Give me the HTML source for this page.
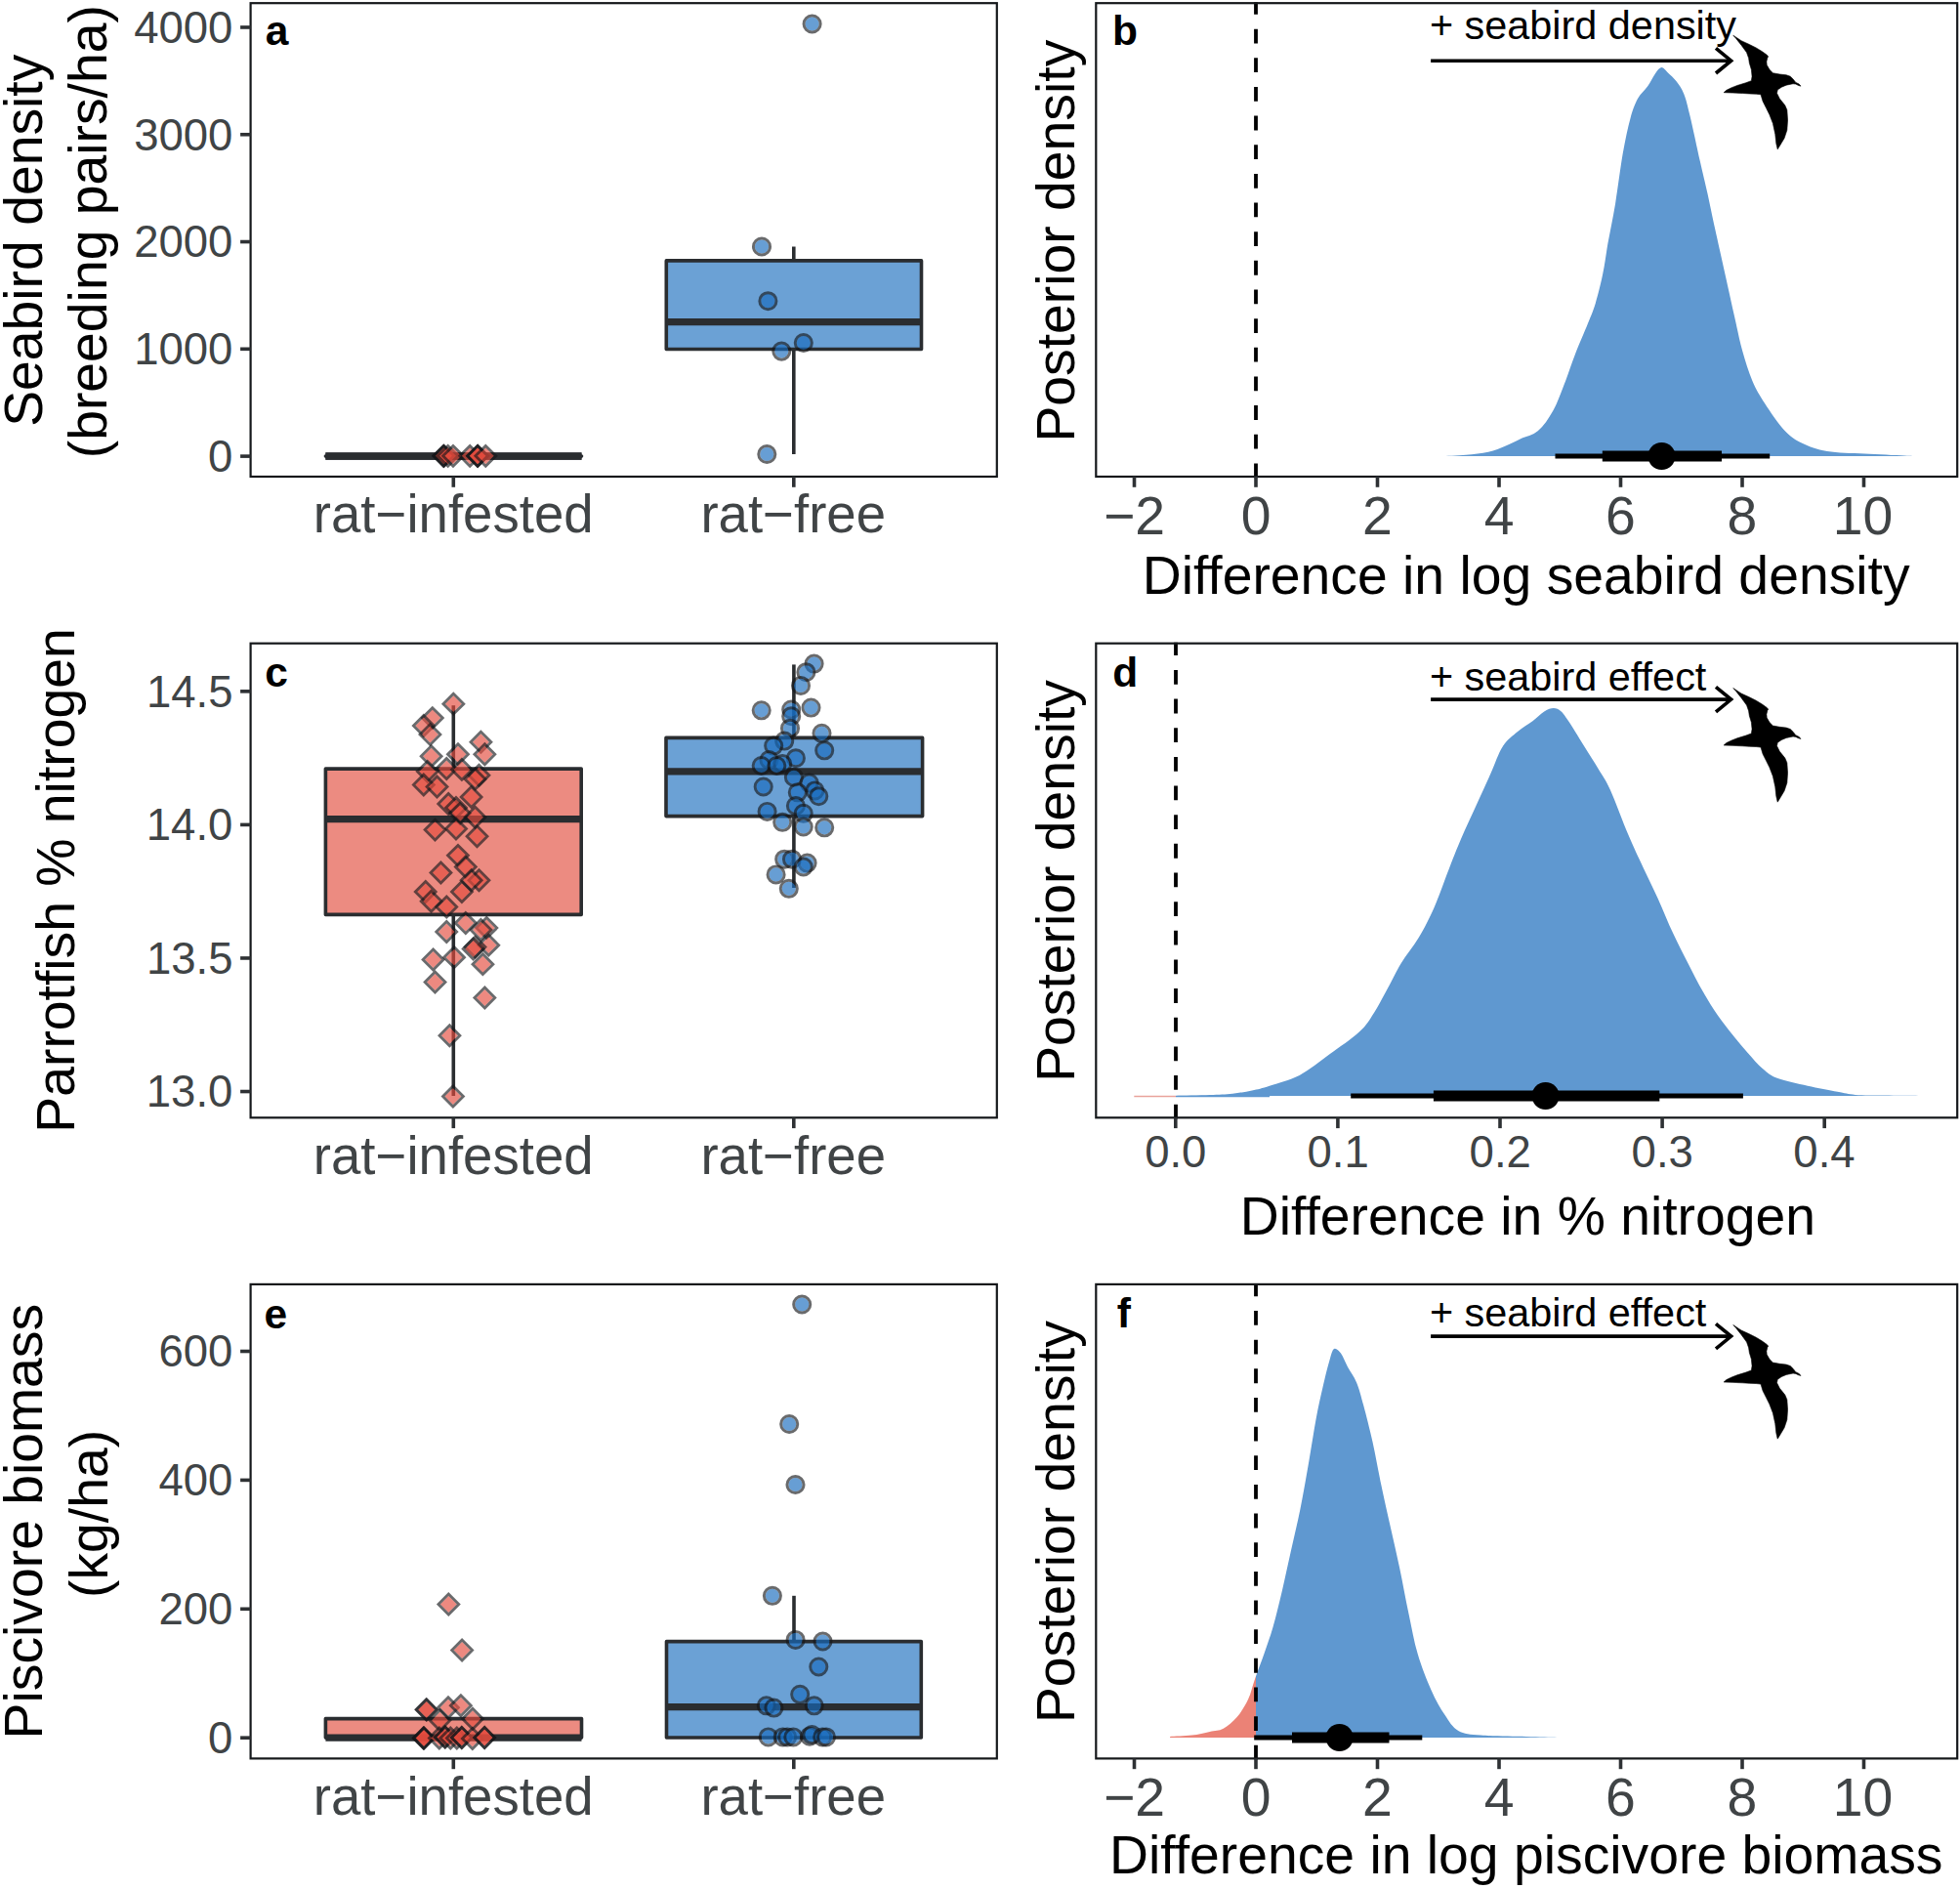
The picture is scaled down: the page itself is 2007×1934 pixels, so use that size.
<!DOCTYPE html>
<html><head><meta charset="utf-8"><style>
html,body{margin:0;padding:0;background:#fff;}
svg{display:block;}
text{font-family:"Liberation Sans",Arial,Helvetica,sans-serif;}
</style></head><body>
<svg width="2007" height="1934" viewBox="0 0 2007 1934">
<rect width="2007" height="1934" fill="#fff"/>
<line x1="464.30" y1="467.10" x2="464.30" y2="467.10" stroke="#2a2d30" stroke-width="3.6"/>
<line x1="464.30" y1="467.10" x2="464.30" y2="467.10" stroke="#2a2d30" stroke-width="3.6"/>
<rect x="333.40" y="467.10" width="262.10" height="0.00" fill="rgba(229,100,87,0.75)" stroke="#2a2d30" stroke-width="3.6" stroke-linejoin="round"/>
<line x1="333.40" y1="467.10" x2="595.50" y2="467.10" stroke="#2a2d30" stroke-width="7.2"/>
<line x1="333.4" y1="467.10" x2="595.5" y2="467.10" stroke="#2a2d30" stroke-width="3.6" stroke-linecap="round"/>
<line x1="333.4" y1="467.00" x2="595.5" y2="467.00" stroke="#2a2d30" stroke-width="7.6"/>
<path d="M454.3,458.3L462.8,466.8L454.3,475.3L445.8,466.8Z" fill="rgba(227,75,61,0.655)"/>
<path d="M454.3,456.4L464.8,466.8L454.3,477.2L443.9,466.8Z" fill="none" stroke="rgba(20,22,25,0.64)" stroke-width="2.80" stroke-linejoin="miter"/>
<path d="M454.3,458.3L462.8,466.8L454.3,475.3L445.8,466.8Z" fill="rgba(227,75,61,0.655)"/>
<path d="M454.3,456.4L464.8,466.8L454.3,477.2L443.9,466.8Z" fill="none" stroke="rgba(20,22,25,0.64)" stroke-width="2.80" stroke-linejoin="miter"/>
<path d="M454.6,458.3L463.1,466.8L454.6,475.3L446.1,466.8Z" fill="rgba(227,75,61,0.655)"/>
<path d="M454.6,456.4L465.1,466.8L454.6,477.2L444.2,466.8Z" fill="none" stroke="rgba(20,22,25,0.64)" stroke-width="2.80" stroke-linejoin="miter"/>
<path d="M458.7,458.3L467.2,466.8L458.7,475.3L450.2,466.8Z" fill="rgba(227,75,61,0.655)"/>
<path d="M458.7,456.4L469.1,466.8L458.7,477.2L448.2,466.8Z" fill="none" stroke="rgba(20,22,25,0.64)" stroke-width="2.80" stroke-linejoin="miter"/>
<path d="M464.0,458.3L472.5,466.8L464.0,475.3L455.5,466.8Z" fill="rgba(227,75,61,0.655)"/>
<path d="M464.0,456.4L474.4,466.8L464.0,477.2L453.6,466.8Z" fill="none" stroke="rgba(20,22,25,0.64)" stroke-width="2.80" stroke-linejoin="miter"/>
<path d="M481.2,458.3L489.7,466.8L481.2,475.3L472.7,466.8Z" fill="rgba(227,75,61,0.655)"/>
<path d="M481.2,456.4L491.6,466.8L481.2,477.2L470.8,466.8Z" fill="none" stroke="rgba(20,22,25,0.64)" stroke-width="2.80" stroke-linejoin="miter"/>
<path d="M489.2,458.3L497.7,466.8L489.2,475.3L480.7,466.8Z" fill="rgba(227,75,61,0.655)"/>
<path d="M489.2,456.4L499.6,466.8L489.2,477.2L478.8,466.8Z" fill="none" stroke="rgba(20,22,25,0.64)" stroke-width="2.80" stroke-linejoin="miter"/>
<path d="M489.2,458.3L497.7,466.8L489.2,475.3L480.7,466.8Z" fill="rgba(227,75,61,0.655)"/>
<path d="M489.2,456.4L499.6,466.8L489.2,477.2L478.8,466.8Z" fill="none" stroke="rgba(20,22,25,0.64)" stroke-width="2.80" stroke-linejoin="miter"/>
<path d="M489.0,458.3L497.5,466.8L489.0,475.3L480.5,466.8Z" fill="rgba(227,75,61,0.655)"/>
<path d="M489.0,456.4L499.4,466.8L489.0,477.2L478.6,466.8Z" fill="none" stroke="rgba(20,22,25,0.64)" stroke-width="2.80" stroke-linejoin="miter"/>
<path d="M497.3,458.3L505.8,466.8L497.3,475.3L488.8,466.8Z" fill="rgba(227,75,61,0.655)"/>
<path d="M497.3,456.4L507.8,466.8L497.3,477.2L486.9,466.8Z" fill="none" stroke="rgba(20,22,25,0.64)" stroke-width="2.80" stroke-linejoin="miter"/>
<line x1="812.80" y1="252.50" x2="812.80" y2="266.90" stroke="#2a2d30" stroke-width="3.6"/>
<line x1="812.80" y1="357.50" x2="812.80" y2="465.00" stroke="#2a2d30" stroke-width="3.6"/>
<rect x="682.30" y="266.90" width="261.20" height="90.60" fill="rgba(63,133,201,0.77)" stroke="#2a2d30" stroke-width="3.6" stroke-linejoin="round"/>
<line x1="682.30" y1="329.60" x2="943.50" y2="329.60" stroke="#2a2d30" stroke-width="7.2"/>
<circle cx="831.6" cy="24.5" r="7.08" fill="rgba(23,107,189,0.655)"/>
<circle cx="831.6" cy="24.5" r="8.55" fill="none" stroke="rgba(20,22,25,0.64)" stroke-width="2.95"/>
<circle cx="780.0" cy="252.5" r="7.08" fill="rgba(23,107,189,0.655)"/>
<circle cx="780.0" cy="252.5" r="8.55" fill="none" stroke="rgba(20,22,25,0.64)" stroke-width="2.95"/>
<circle cx="786.4" cy="308.2" r="7.08" fill="rgba(23,107,189,0.655)"/>
<circle cx="786.4" cy="308.2" r="8.55" fill="none" stroke="rgba(20,22,25,0.64)" stroke-width="2.95"/>
<circle cx="822.8" cy="351.0" r="7.08" fill="rgba(23,107,189,0.655)"/>
<circle cx="822.8" cy="351.0" r="8.55" fill="none" stroke="rgba(20,22,25,0.64)" stroke-width="2.95"/>
<circle cx="800.3" cy="359.6" r="7.08" fill="rgba(23,107,189,0.655)"/>
<circle cx="800.3" cy="359.6" r="8.55" fill="none" stroke="rgba(20,22,25,0.64)" stroke-width="2.95"/>
<circle cx="785.3" cy="465.0" r="7.08" fill="rgba(23,107,189,0.655)"/>
<circle cx="785.3" cy="465.0" r="8.55" fill="none" stroke="rgba(20,22,25,0.64)" stroke-width="2.95"/>
<rect x="256.60" y="3.20" width="764.20" height="484.80" fill="none" stroke="#15181b" stroke-width="2.2"/>
<line x1="246.10" y1="467.10" x2="256.60" y2="467.10" stroke="#2e3134" stroke-width="3.6"/>
<text x="213.05" y="483.00" font-size="45.50" fill="#404446" text-anchor="start" font-weight="normal">0</text>
<line x1="246.10" y1="357.32" x2="256.60" y2="357.32" stroke="#2e3134" stroke-width="3.6"/>
<text x="137.18" y="373.22" font-size="45.50" fill="#404446" text-anchor="start" font-weight="normal">1000</text>
<line x1="246.10" y1="247.54" x2="256.60" y2="247.54" stroke="#2e3134" stroke-width="3.6"/>
<text x="137.18" y="263.44" font-size="45.50" fill="#404446" text-anchor="start" font-weight="normal">2000</text>
<line x1="246.10" y1="137.76" x2="256.60" y2="137.76" stroke="#2e3134" stroke-width="3.6"/>
<text x="137.18" y="153.66" font-size="45.50" fill="#404446" text-anchor="start" font-weight="normal">3000</text>
<line x1="246.10" y1="27.98" x2="256.60" y2="27.98" stroke="#2e3134" stroke-width="3.6"/>
<text x="137.18" y="43.88" font-size="45.50" fill="#404446" text-anchor="start" font-weight="normal">4000</text>
<line x1="464.30" y1="488.00" x2="464.30" y2="498.80" stroke="#2e3134" stroke-width="3.6"/>
<text x="320.84" y="545.40" font-size="54.60" fill="#404446" text-anchor="start" font-weight="normal">rat−infested</text>
<line x1="812.80" y1="488.00" x2="812.80" y2="498.80" stroke="#2e3134" stroke-width="3.6"/>
<text x="717.39" y="545.40" font-size="54.60" fill="#404446" text-anchor="start" font-weight="normal">rat−free</text>
<text x="271.83" y="45.60" font-size="42.50" fill="#000" text-anchor="start" font-weight="bold">a</text>
<text transform="translate(42.80,436.82) rotate(-90)" font-size="55.30" fill="#000" text-anchor="start" font-weight="normal">Seabird density</text>
<text transform="translate(109.40,469.25) rotate(-90)" font-size="55.30" fill="#000" text-anchor="start" font-weight="normal">(breeding pairs/ha)</text>
<path d="M1475.5,467.1 C1479.8,466.9 1492.9,466.6 1501.0,465.8 C1509.1,465.1 1517.2,464.4 1524.0,462.8 C1530.8,461.2 1536.3,458.6 1541.8,456.4 C1547.4,454.1 1551.6,451.8 1557.1,449.2 C1562.7,446.7 1569.5,445.8 1575.0,441.1 C1580.5,436.3 1585.6,429.1 1590.3,420.6 C1595.0,412.1 1599.2,399.7 1603.1,389.9 C1606.9,380.1 1609.4,371.6 1613.3,361.8 C1617.1,352.0 1622.6,339.7 1626.0,331.1 C1629.4,322.6 1631.1,319.2 1633.7,310.7 C1636.2,302.2 1639.2,290.2 1641.3,280.0 C1643.5,269.8 1644.3,261.3 1646.4,249.3 C1648.6,237.4 1651.5,223.8 1654.1,208.4 C1656.6,193.1 1659.2,171.8 1661.7,157.3 C1664.3,142.8 1666.8,130.9 1669.4,121.5 C1671.9,112.2 1674.1,106.6 1677.0,101.1 C1680.0,95.5 1684.3,92.6 1687.2,88.3 C1690.2,84.0 1692.6,78.7 1694.9,75.5 C1697.2,72.3 1699.1,69.3 1701.3,69.1 C1703.4,68.9 1705.1,71.9 1707.7,74.2 C1710.2,76.6 1713.8,79.6 1716.6,83.2 C1719.3,86.8 1721.9,90.0 1724.2,96.0 C1726.6,101.9 1727.8,107.5 1730.6,119.0 C1733.4,130.5 1737.8,151.8 1740.8,165.0 C1743.8,178.2 1745.9,186.7 1748.5,198.2 C1751.0,209.7 1753.1,220.4 1756.1,234.0 C1759.1,247.6 1762.9,264.7 1766.3,280.0 C1769.7,295.4 1773.6,312.8 1776.5,326.0 C1779.5,339.2 1781.2,348.6 1784.2,359.3 C1787.2,369.9 1790.6,381.0 1794.4,389.9 C1798.2,398.9 1801.6,404.4 1807.1,412.9 C1812.7,421.5 1821.2,434.2 1827.6,441.1 C1833.9,447.9 1838.2,450.3 1845.4,453.8 C1852.6,457.3 1860.3,460.2 1870.9,462.0 C1881.5,463.8 1896.0,463.8 1909.2,464.6 C1922.4,465.3 1941.6,466.2 1950.0,466.6 C1958.4,467.0 1957.8,467.0 1959.3,467.1 L1959.3,467.1 L1475.5,467.1 Z" fill="#5f98d0"/>
<line x1="1286.00" y1="489.20" x2="1286.00" y2="2.20" stroke="#000" stroke-width="3.8" stroke-dasharray="14.8 14.85"/>
<line x1="1592.50" y1="467.00" x2="1812.20" y2="467.00" stroke="#000" stroke-width="5"/>
<line x1="1640.80" y1="467.00" x2="1763.00" y2="467.00" stroke="#000" stroke-width="11"/>
<circle cx="1701.50" cy="467.00" r="14.00" fill="#000"/>
<text x="1463.93" y="39.80" font-size="41.40" fill="#000" text-anchor="start" font-weight="normal">+ seabird density</text>
<line x1="1465.1" y1="62.20" x2="1771.0" y2="62.20" stroke="#000" stroke-width="3.6"/>
<polyline points="1757.0,49.40 1772.6,62.20 1757.0,75.00" fill="none" stroke="#000" stroke-width="3.6" stroke-linejoin="miter"/>
<path d="M1774.78,36.20 L1783.04,41.70 L1791.30,45.49 L1798.19,48.93 L1804.38,52.72 L1809.20,56.16 L1810.71,57.88 L1809.89,58.91 L1808.86,63.04 L1809.20,66.48 L1811.95,71.30 L1815.40,74.74 L1822.28,75.98 L1829.16,76.81 L1833.29,78.19 L1836.05,80.94 L1838.80,84.38 L1842.24,86.10 L1843.96,88.17 L1841.55,87.48 L1838.80,86.10 L1836.05,85.76 L1829.16,87.13 L1824.34,89.20 L1820.21,91.95 L1819.53,95.40 L1822.28,100.90 L1827.79,107.79 L1829.85,112.60 L1830.54,122.93 L1829.85,133.26 L1827.10,141.52 L1822.97,148.40 L1820.21,152.87 L1818.84,147.02 L1817.80,137.39 L1815.40,126.37 L1811.95,117.42 L1808.51,110.54 L1805.07,103.66 L1803.00,96.77 L1798.19,96.22 L1791.30,95.95 L1784.42,95.53 L1774.09,95.05 L1765.14,94.71 L1767.90,92.30 L1772.72,89.89 L1778.91,87.48 L1787.86,84.73 L1793.37,82.66 L1794.06,78.19 L1793.37,71.30 L1791.30,64.42 L1790.61,59.60 L1788.55,53.75 L1783.04,46.18 L1777.53,39.29 Z" fill="#000" stroke="#000" stroke-width="0.6" stroke-linejoin="round"/>
<rect x="1122.30" y="3.20" width="881.90" height="484.80" fill="none" stroke="#15181b" stroke-width="2.2"/>
<line x1="1161.50" y1="488.00" x2="1161.50" y2="498.80" stroke="#2e3134" stroke-width="3.6"/>
<text x="1129.98" y="546.50" font-size="55.30" fill="#404446" text-anchor="start" font-weight="normal">−2</text>
<line x1="1286.00" y1="488.00" x2="1286.00" y2="498.80" stroke="#2e3134" stroke-width="3.6"/>
<text x="1270.65" y="546.50" font-size="55.30" fill="#404446" text-anchor="start" font-weight="normal">0</text>
<line x1="1410.50" y1="488.00" x2="1410.50" y2="498.80" stroke="#2e3134" stroke-width="3.6"/>
<text x="1395.09" y="546.50" font-size="55.30" fill="#404446" text-anchor="start" font-weight="normal">2</text>
<line x1="1535.00" y1="488.00" x2="1535.00" y2="498.80" stroke="#2e3134" stroke-width="3.6"/>
<text x="1519.79" y="546.50" font-size="55.30" fill="#404446" text-anchor="start" font-weight="normal">4</text>
<line x1="1659.50" y1="488.00" x2="1659.50" y2="498.80" stroke="#2e3134" stroke-width="3.6"/>
<text x="1643.95" y="546.50" font-size="55.30" fill="#404446" text-anchor="start" font-weight="normal">6</text>
<line x1="1784.00" y1="488.00" x2="1784.00" y2="498.80" stroke="#2e3134" stroke-width="3.6"/>
<text x="1768.59" y="546.50" font-size="55.30" fill="#404446" text-anchor="start" font-weight="normal">8</text>
<line x1="1908.50" y1="488.00" x2="1908.50" y2="498.80" stroke="#2e3134" stroke-width="3.6"/>
<text x="1876.77" y="546.50" font-size="55.30" fill="#404446" text-anchor="start" font-weight="normal">10</text>
<text x="1138.94" y="45.50" font-size="42.50" fill="#000" text-anchor="start" font-weight="bold">b</text>
<text transform="translate(1099.80,452.54) rotate(-90)" font-size="55.30" fill="#000" text-anchor="start" font-weight="normal">Posterior density</text>
<text x="1169.71" y="607.80" font-size="55.30" fill="#000" text-anchor="start" font-weight="normal">Difference in log seabird density</text>
<line x1="464.30" y1="722.20" x2="464.30" y2="787.10" stroke="#2a2d30" stroke-width="3.6"/>
<line x1="464.30" y1="936.40" x2="464.30" y2="1122.00" stroke="#2a2d30" stroke-width="3.6"/>
<rect x="333.40" y="787.10" width="261.80" height="149.30" fill="rgba(229,100,87,0.75)" stroke="#2a2d30" stroke-width="3.6" stroke-linejoin="round"/>
<line x1="333.40" y1="838.70" x2="595.20" y2="838.70" stroke="#2a2d30" stroke-width="7.2"/>
<line x1="812.90" y1="680.40" x2="812.90" y2="755.40" stroke="#2a2d30" stroke-width="3.6"/>
<line x1="812.90" y1="835.60" x2="812.90" y2="909.00" stroke="#2a2d30" stroke-width="3.6"/>
<rect x="682.00" y="755.40" width="262.60" height="80.20" fill="rgba(63,133,201,0.77)" stroke="#2a2d30" stroke-width="3.6" stroke-linejoin="round"/>
<line x1="682.00" y1="789.80" x2="944.60" y2="789.80" stroke="#2a2d30" stroke-width="7.2"/>
<path d="M464.3,712.2L472.8,720.7L464.3,729.1L455.8,720.7Z" fill="rgba(227,75,61,0.655)"/>
<path d="M464.3,710.2L474.8,720.7L464.3,731.1L453.9,720.7Z" fill="none" stroke="rgba(20,22,25,0.64)" stroke-width="2.80" stroke-linejoin="miter"/>
<path d="M442.8,726.6L451.3,735.1L442.8,743.6L434.3,735.1Z" fill="rgba(227,75,61,0.655)"/>
<path d="M442.8,724.7L453.3,735.1L442.8,745.6L432.4,735.1Z" fill="none" stroke="rgba(20,22,25,0.64)" stroke-width="2.80" stroke-linejoin="miter"/>
<path d="M433.8,734.5L442.3,742.9L433.8,751.4L425.4,742.9Z" fill="rgba(227,75,61,0.655)"/>
<path d="M433.8,732.5L444.3,742.9L433.8,753.4L423.4,742.9Z" fill="none" stroke="rgba(20,22,25,0.64)" stroke-width="2.80" stroke-linejoin="miter"/>
<path d="M440.5,743.5L448.9,751.9L440.5,760.4L432.0,751.9Z" fill="rgba(227,75,61,0.655)"/>
<path d="M440.5,741.5L450.9,751.9L440.5,762.4L430.0,751.9Z" fill="none" stroke="rgba(20,22,25,0.64)" stroke-width="2.80" stroke-linejoin="miter"/>
<path d="M492.4,751.3L500.9,759.7L492.4,768.2L484.0,759.7Z" fill="rgba(227,75,61,0.655)"/>
<path d="M492.4,749.3L502.9,759.7L492.4,770.2L482.0,759.7Z" fill="none" stroke="rgba(20,22,25,0.64)" stroke-width="2.80" stroke-linejoin="miter"/>
<path d="M496.4,763.8L504.8,772.2L496.4,780.7L487.9,772.2Z" fill="rgba(227,75,61,0.655)"/>
<path d="M496.4,761.8L506.8,772.2L496.4,782.7L485.9,772.2Z" fill="none" stroke="rgba(20,22,25,0.64)" stroke-width="2.80" stroke-linejoin="miter"/>
<path d="M441.6,765.7L450.1,774.2L441.6,782.7L433.2,774.2Z" fill="rgba(227,75,61,0.655)"/>
<path d="M441.6,763.8L452.1,774.2L441.6,784.7L431.2,774.2Z" fill="none" stroke="rgba(20,22,25,0.64)" stroke-width="2.80" stroke-linejoin="miter"/>
<path d="M469.0,763.8L477.5,772.2L469.0,780.7L460.5,772.2Z" fill="rgba(227,75,61,0.655)"/>
<path d="M469.0,761.8L479.4,772.2L469.0,782.7L458.5,772.2Z" fill="none" stroke="rgba(20,22,25,0.64)" stroke-width="2.80" stroke-linejoin="miter"/>
<path d="M457.3,778.6L465.7,787.1L457.3,795.6L448.8,787.1Z" fill="rgba(227,75,61,0.655)"/>
<path d="M457.3,776.6L467.7,787.1L457.3,797.5L446.8,787.1Z" fill="none" stroke="rgba(20,22,25,0.64)" stroke-width="2.80" stroke-linejoin="miter"/>
<path d="M472.9,779.4L481.4,787.9L472.9,796.4L464.4,787.9Z" fill="rgba(227,75,61,0.655)"/>
<path d="M472.9,777.4L483.4,787.9L472.9,798.3L462.5,787.9Z" fill="none" stroke="rgba(20,22,25,0.64)" stroke-width="2.80" stroke-linejoin="miter"/>
<path d="M437.7,781.4L446.2,789.8L437.7,798.3L429.3,789.8Z" fill="rgba(227,75,61,0.655)"/>
<path d="M437.7,779.4L448.2,789.8L437.7,800.3L427.3,789.8Z" fill="none" stroke="rgba(20,22,25,0.64)" stroke-width="2.80" stroke-linejoin="miter"/>
<path d="M490.5,785.3L499.0,793.7L490.5,802.2L482.0,793.7Z" fill="rgba(227,75,61,0.655)"/>
<path d="M490.5,783.3L500.9,793.7L490.5,804.2L480.0,793.7Z" fill="none" stroke="rgba(20,22,25,0.64)" stroke-width="2.80" stroke-linejoin="miter"/>
<path d="M486.6,789.2L495.1,797.7L486.6,806.1L478.1,797.7Z" fill="rgba(227,75,61,0.655)"/>
<path d="M486.6,787.2L497.0,797.7L486.6,808.1L476.1,797.7Z" fill="none" stroke="rgba(20,22,25,0.64)" stroke-width="2.80" stroke-linejoin="miter"/>
<path d="M433.8,795.0L442.3,803.5L433.8,812.0L425.4,803.5Z" fill="rgba(227,75,61,0.655)"/>
<path d="M433.8,793.1L444.3,803.5L433.8,814.0L423.4,803.5Z" fill="none" stroke="rgba(20,22,25,0.64)" stroke-width="2.80" stroke-linejoin="miter"/>
<path d="M447.5,797.0L456.0,805.5L447.5,813.9L439.0,805.5Z" fill="rgba(227,75,61,0.655)"/>
<path d="M447.5,795.0L458.0,805.5L447.5,815.9L437.1,805.5Z" fill="none" stroke="rgba(20,22,25,0.64)" stroke-width="2.80" stroke-linejoin="miter"/>
<path d="M482.7,807.5L491.1,816.0L482.7,824.5L474.2,816.0Z" fill="rgba(227,75,61,0.655)"/>
<path d="M482.7,805.6L493.1,816.0L482.7,826.5L472.2,816.0Z" fill="none" stroke="rgba(20,22,25,0.64)" stroke-width="2.80" stroke-linejoin="miter"/>
<path d="M459.2,814.6L467.7,823.1L459.2,831.5L450.8,823.1Z" fill="rgba(227,75,61,0.655)"/>
<path d="M459.2,812.6L469.7,823.1L459.2,833.5L448.8,823.1Z" fill="none" stroke="rgba(20,22,25,0.64)" stroke-width="2.80" stroke-linejoin="miter"/>
<path d="M467.0,818.5L475.5,827.0L467.0,835.4L458.6,827.0Z" fill="rgba(227,75,61,0.655)"/>
<path d="M467.0,816.5L477.5,827.0L467.0,837.4L456.6,827.0Z" fill="none" stroke="rgba(20,22,25,0.64)" stroke-width="2.80" stroke-linejoin="miter"/>
<path d="M471.0,824.4L479.4,832.8L471.0,841.3L462.5,832.8Z" fill="rgba(227,75,61,0.655)"/>
<path d="M471.0,822.4L481.4,832.8L471.0,843.3L460.5,832.8Z" fill="none" stroke="rgba(20,22,25,0.64)" stroke-width="2.80" stroke-linejoin="miter"/>
<path d="M486.6,828.3L495.1,836.7L486.6,845.2L478.1,836.7Z" fill="rgba(227,75,61,0.655)"/>
<path d="M486.6,826.3L497.0,836.7L486.6,847.2L476.1,836.7Z" fill="none" stroke="rgba(20,22,25,0.64)" stroke-width="2.80" stroke-linejoin="miter"/>
<path d="M445.5,841.2L454.0,849.6L445.5,858.1L437.1,849.6Z" fill="rgba(227,75,61,0.655)"/>
<path d="M445.5,839.2L456.0,849.6L445.5,860.1L435.1,849.6Z" fill="none" stroke="rgba(20,22,25,0.64)" stroke-width="2.80" stroke-linejoin="miter"/>
<path d="M467.0,840.0L475.5,848.5L467.0,856.9L458.6,848.5Z" fill="rgba(227,75,61,0.655)"/>
<path d="M467.0,838.0L477.5,848.5L467.0,858.9L456.6,848.5Z" fill="none" stroke="rgba(20,22,25,0.64)" stroke-width="2.80" stroke-linejoin="miter"/>
<path d="M488.5,847.8L497.0,856.3L488.5,864.7L480.1,856.3Z" fill="rgba(227,75,61,0.655)"/>
<path d="M488.5,845.8L499.0,856.3L488.5,866.7L478.1,856.3Z" fill="none" stroke="rgba(20,22,25,0.64)" stroke-width="2.80" stroke-linejoin="miter"/>
<path d="M469.0,867.3L477.5,875.8L469.0,884.3L460.5,875.8Z" fill="rgba(227,75,61,0.655)"/>
<path d="M469.0,865.4L479.4,875.8L469.0,886.3L458.5,875.8Z" fill="none" stroke="rgba(20,22,25,0.64)" stroke-width="2.80" stroke-linejoin="miter"/>
<path d="M476.8,879.1L485.3,887.5L476.8,896.0L468.3,887.5Z" fill="rgba(227,75,61,0.655)"/>
<path d="M476.8,877.1L487.3,887.5L476.8,898.0L466.4,887.5Z" fill="none" stroke="rgba(20,22,25,0.64)" stroke-width="2.80" stroke-linejoin="miter"/>
<path d="M451.4,884.9L459.9,893.4L451.4,901.9L442.9,893.4Z" fill="rgba(227,75,61,0.655)"/>
<path d="M451.4,883.0L461.9,893.4L451.4,903.9L441.0,893.4Z" fill="none" stroke="rgba(20,22,25,0.64)" stroke-width="2.80" stroke-linejoin="miter"/>
<path d="M490.5,892.7L499.0,901.2L490.5,909.7L482.0,901.2Z" fill="rgba(227,75,61,0.655)"/>
<path d="M490.5,890.8L500.9,901.2L490.5,911.7L480.0,901.2Z" fill="none" stroke="rgba(20,22,25,0.64)" stroke-width="2.80" stroke-linejoin="miter"/>
<path d="M482.7,892.7L491.1,901.2L482.7,909.7L474.2,901.2Z" fill="rgba(227,75,61,0.655)"/>
<path d="M482.7,890.8L493.1,901.2L482.7,911.7L472.2,901.2Z" fill="none" stroke="rgba(20,22,25,0.64)" stroke-width="2.80" stroke-linejoin="miter"/>
<path d="M472.9,904.5L481.4,912.9L472.9,921.4L464.4,912.9Z" fill="rgba(227,75,61,0.655)"/>
<path d="M472.9,902.5L483.4,912.9L472.9,923.4L462.5,912.9Z" fill="none" stroke="rgba(20,22,25,0.64)" stroke-width="2.80" stroke-linejoin="miter"/>
<path d="M435.8,904.5L444.2,912.9L435.8,921.4L427.3,912.9Z" fill="rgba(227,75,61,0.655)"/>
<path d="M435.8,902.5L446.2,912.9L435.8,923.4L425.3,912.9Z" fill="none" stroke="rgba(20,22,25,0.64)" stroke-width="2.80" stroke-linejoin="miter"/>
<path d="M441.6,914.2L450.1,922.7L441.6,931.2L433.2,922.7Z" fill="rgba(227,75,61,0.655)"/>
<path d="M441.6,912.3L452.1,922.7L441.6,933.2L431.2,922.7Z" fill="none" stroke="rgba(20,22,25,0.64)" stroke-width="2.80" stroke-linejoin="miter"/>
<path d="M457.3,920.1L465.7,928.6L457.3,937.0L448.8,928.6Z" fill="rgba(227,75,61,0.655)"/>
<path d="M457.3,918.1L467.7,928.6L457.3,939.0L446.8,928.6Z" fill="none" stroke="rgba(20,22,25,0.64)" stroke-width="2.80" stroke-linejoin="miter"/>
<path d="M476.8,936.5L485.3,945.0L476.8,953.5L468.3,945.0Z" fill="rgba(227,75,61,0.655)"/>
<path d="M476.8,934.5L487.3,945.0L476.8,955.4L466.4,945.0Z" fill="none" stroke="rgba(20,22,25,0.64)" stroke-width="2.80" stroke-linejoin="miter"/>
<path d="M498.3,941.6L506.8,950.1L498.3,958.5L489.8,950.1Z" fill="rgba(227,75,61,0.655)"/>
<path d="M498.3,939.6L508.8,950.1L498.3,960.5L487.9,950.1Z" fill="none" stroke="rgba(20,22,25,0.64)" stroke-width="2.80" stroke-linejoin="miter"/>
<path d="M492.4,943.6L500.9,952.0L492.4,960.5L484.0,952.0Z" fill="rgba(227,75,61,0.655)"/>
<path d="M492.4,941.6L502.9,952.0L492.4,962.5L482.0,952.0Z" fill="none" stroke="rgba(20,22,25,0.64)" stroke-width="2.80" stroke-linejoin="miter"/>
<path d="M457.3,945.5L465.7,954.0L457.3,962.5L448.8,954.0Z" fill="rgba(227,75,61,0.655)"/>
<path d="M457.3,943.5L467.7,954.0L457.3,964.4L446.8,954.0Z" fill="none" stroke="rgba(20,22,25,0.64)" stroke-width="2.80" stroke-linejoin="miter"/>
<path d="M500.3,959.2L508.7,967.7L500.3,976.1L491.8,967.7Z" fill="rgba(227,75,61,0.655)"/>
<path d="M500.3,957.2L510.7,967.7L500.3,978.1L489.8,967.7Z" fill="none" stroke="rgba(20,22,25,0.64)" stroke-width="2.80" stroke-linejoin="miter"/>
<path d="M486.6,961.1L495.1,969.6L486.6,978.1L478.1,969.6Z" fill="rgba(227,75,61,0.655)"/>
<path d="M486.6,959.2L497.0,969.6L486.6,980.1L476.1,969.6Z" fill="none" stroke="rgba(20,22,25,0.64)" stroke-width="2.80" stroke-linejoin="miter"/>
<path d="M484.6,963.1L493.1,971.6L484.6,980.0L476.2,971.6Z" fill="rgba(227,75,61,0.655)"/>
<path d="M484.6,961.1L495.1,971.6L484.6,982.0L474.2,971.6Z" fill="none" stroke="rgba(20,22,25,0.64)" stroke-width="2.80" stroke-linejoin="miter"/>
<path d="M443.6,974.0L452.1,982.5L443.6,991.0L435.1,982.5Z" fill="rgba(227,75,61,0.655)"/>
<path d="M443.6,972.1L454.0,982.5L443.6,993.0L433.1,982.5Z" fill="none" stroke="rgba(20,22,25,0.64)" stroke-width="2.80" stroke-linejoin="miter"/>
<path d="M465.1,971.7L473.6,980.2L465.1,988.6L456.6,980.2Z" fill="rgba(227,75,61,0.655)"/>
<path d="M465.1,969.7L475.5,980.2L465.1,990.6L454.6,980.2Z" fill="none" stroke="rgba(20,22,25,0.64)" stroke-width="2.80" stroke-linejoin="miter"/>
<path d="M494.4,978.7L502.9,987.2L494.4,995.7L485.9,987.2Z" fill="rgba(227,75,61,0.655)"/>
<path d="M494.4,976.7L504.9,987.2L494.4,997.6L484.0,987.2Z" fill="none" stroke="rgba(20,22,25,0.64)" stroke-width="2.80" stroke-linejoin="miter"/>
<path d="M445.5,997.1L454.0,1005.6L445.5,1014.0L437.1,1005.6Z" fill="rgba(227,75,61,0.655)"/>
<path d="M445.5,995.1L456.0,1005.6L445.5,1016.0L435.1,1005.6Z" fill="none" stroke="rgba(20,22,25,0.64)" stroke-width="2.80" stroke-linejoin="miter"/>
<path d="M496.4,1013.1L504.8,1021.6L496.4,1030.1L487.9,1021.6Z" fill="rgba(227,75,61,0.655)"/>
<path d="M496.4,1011.1L506.8,1021.6L496.4,1032.0L485.9,1021.6Z" fill="none" stroke="rgba(20,22,25,0.64)" stroke-width="2.80" stroke-linejoin="miter"/>
<path d="M460.4,1051.8L468.9,1060.3L460.4,1068.8L451.9,1060.3Z" fill="rgba(227,75,61,0.655)"/>
<path d="M460.4,1049.8L470.9,1060.3L460.4,1070.7L450.0,1060.3Z" fill="none" stroke="rgba(20,22,25,0.64)" stroke-width="2.80" stroke-linejoin="miter"/>
<path d="M463.9,1114.0L472.4,1122.4L463.9,1130.9L455.4,1122.4Z" fill="rgba(227,75,61,0.655)"/>
<path d="M463.9,1112.0L474.4,1122.4L463.9,1132.9L453.5,1122.4Z" fill="none" stroke="rgba(20,22,25,0.64)" stroke-width="2.80" stroke-linejoin="miter"/>
<circle cx="833.6" cy="679.6" r="7.08" fill="rgba(23,107,189,0.655)"/>
<circle cx="833.6" cy="679.6" r="8.55" fill="none" stroke="rgba(20,22,25,0.64)" stroke-width="2.95"/>
<circle cx="825.4" cy="688.2" r="7.08" fill="rgba(23,107,189,0.655)"/>
<circle cx="825.4" cy="688.2" r="8.55" fill="none" stroke="rgba(20,22,25,0.64)" stroke-width="2.95"/>
<circle cx="820.0" cy="701.9" r="7.08" fill="rgba(23,107,189,0.655)"/>
<circle cx="820.0" cy="701.9" r="8.55" fill="none" stroke="rgba(20,22,25,0.64)" stroke-width="2.95"/>
<circle cx="779.7" cy="727.3" r="7.08" fill="rgba(23,107,189,0.655)"/>
<circle cx="779.7" cy="727.3" r="8.55" fill="none" stroke="rgba(20,22,25,0.64)" stroke-width="2.95"/>
<circle cx="830.5" cy="724.6" r="7.08" fill="rgba(23,107,189,0.655)"/>
<circle cx="830.5" cy="724.6" r="8.55" fill="none" stroke="rgba(20,22,25,0.64)" stroke-width="2.95"/>
<circle cx="810.2" cy="726.5" r="7.08" fill="rgba(23,107,189,0.655)"/>
<circle cx="810.2" cy="726.5" r="8.55" fill="none" stroke="rgba(20,22,25,0.64)" stroke-width="2.95"/>
<circle cx="810.2" cy="733.2" r="7.08" fill="rgba(23,107,189,0.655)"/>
<circle cx="810.2" cy="733.2" r="8.55" fill="none" stroke="rgba(20,22,25,0.64)" stroke-width="2.95"/>
<circle cx="809.0" cy="745.7" r="7.08" fill="rgba(23,107,189,0.655)"/>
<circle cx="809.0" cy="745.7" r="8.55" fill="none" stroke="rgba(20,22,25,0.64)" stroke-width="2.95"/>
<circle cx="841.5" cy="750.8" r="7.08" fill="rgba(23,107,189,0.655)"/>
<circle cx="841.5" cy="750.8" r="8.55" fill="none" stroke="rgba(20,22,25,0.64)" stroke-width="2.95"/>
<circle cx="803.2" cy="758.6" r="7.08" fill="rgba(23,107,189,0.655)"/>
<circle cx="803.2" cy="758.6" r="8.55" fill="none" stroke="rgba(20,22,25,0.64)" stroke-width="2.95"/>
<circle cx="792.2" cy="763.6" r="7.08" fill="rgba(23,107,189,0.655)"/>
<circle cx="792.2" cy="763.6" r="8.55" fill="none" stroke="rgba(20,22,25,0.64)" stroke-width="2.95"/>
<circle cx="844.2" cy="768.3" r="7.08" fill="rgba(23,107,189,0.655)"/>
<circle cx="844.2" cy="768.3" r="8.55" fill="none" stroke="rgba(20,22,25,0.64)" stroke-width="2.95"/>
<circle cx="814.9" cy="776.2" r="7.08" fill="rgba(23,107,189,0.655)"/>
<circle cx="814.9" cy="776.2" r="8.55" fill="none" stroke="rgba(20,22,25,0.64)" stroke-width="2.95"/>
<circle cx="787.5" cy="778.1" r="7.08" fill="rgba(23,107,189,0.655)"/>
<circle cx="787.5" cy="778.1" r="8.55" fill="none" stroke="rgba(20,22,25,0.64)" stroke-width="2.95"/>
<circle cx="779.7" cy="784.0" r="7.08" fill="rgba(23,107,189,0.655)"/>
<circle cx="779.7" cy="784.0" r="8.55" fill="none" stroke="rgba(20,22,25,0.64)" stroke-width="2.95"/>
<circle cx="801.2" cy="782.0" r="7.08" fill="rgba(23,107,189,0.655)"/>
<circle cx="801.2" cy="782.0" r="8.55" fill="none" stroke="rgba(20,22,25,0.64)" stroke-width="2.95"/>
<circle cx="795.3" cy="784.0" r="7.08" fill="rgba(23,107,189,0.655)"/>
<circle cx="795.3" cy="784.0" r="8.55" fill="none" stroke="rgba(20,22,25,0.64)" stroke-width="2.95"/>
<circle cx="812.9" cy="795.7" r="7.08" fill="rgba(23,107,189,0.655)"/>
<circle cx="812.9" cy="795.7" r="8.55" fill="none" stroke="rgba(20,22,25,0.64)" stroke-width="2.95"/>
<circle cx="828.6" cy="801.6" r="7.08" fill="rgba(23,107,189,0.655)"/>
<circle cx="828.6" cy="801.6" r="8.55" fill="none" stroke="rgba(20,22,25,0.64)" stroke-width="2.95"/>
<circle cx="781.7" cy="805.5" r="7.08" fill="rgba(23,107,189,0.655)"/>
<circle cx="781.7" cy="805.5" r="8.55" fill="none" stroke="rgba(20,22,25,0.64)" stroke-width="2.95"/>
<circle cx="834.4" cy="809.4" r="7.08" fill="rgba(23,107,189,0.655)"/>
<circle cx="834.4" cy="809.4" r="8.55" fill="none" stroke="rgba(20,22,25,0.64)" stroke-width="2.95"/>
<circle cx="838.3" cy="815.2" r="7.08" fill="rgba(23,107,189,0.655)"/>
<circle cx="838.3" cy="815.2" r="8.55" fill="none" stroke="rgba(20,22,25,0.64)" stroke-width="2.95"/>
<circle cx="816.8" cy="811.3" r="7.08" fill="rgba(23,107,189,0.655)"/>
<circle cx="816.8" cy="811.3" r="8.55" fill="none" stroke="rgba(20,22,25,0.64)" stroke-width="2.95"/>
<circle cx="814.9" cy="825.0" r="7.08" fill="rgba(23,107,189,0.655)"/>
<circle cx="814.9" cy="825.0" r="8.55" fill="none" stroke="rgba(20,22,25,0.64)" stroke-width="2.95"/>
<circle cx="785.6" cy="830.9" r="7.08" fill="rgba(23,107,189,0.655)"/>
<circle cx="785.6" cy="830.9" r="8.55" fill="none" stroke="rgba(20,22,25,0.64)" stroke-width="2.95"/>
<circle cx="822.7" cy="832.8" r="7.08" fill="rgba(23,107,189,0.655)"/>
<circle cx="822.7" cy="832.8" r="8.55" fill="none" stroke="rgba(20,22,25,0.64)" stroke-width="2.95"/>
<circle cx="801.2" cy="841.8" r="7.08" fill="rgba(23,107,189,0.655)"/>
<circle cx="801.2" cy="841.8" r="8.55" fill="none" stroke="rgba(20,22,25,0.64)" stroke-width="2.95"/>
<circle cx="822.7" cy="846.5" r="7.08" fill="rgba(23,107,189,0.655)"/>
<circle cx="822.7" cy="846.5" r="8.55" fill="none" stroke="rgba(20,22,25,0.64)" stroke-width="2.95"/>
<circle cx="844.2" cy="847.3" r="7.08" fill="rgba(23,107,189,0.655)"/>
<circle cx="844.2" cy="847.3" r="8.55" fill="none" stroke="rgba(20,22,25,0.64)" stroke-width="2.95"/>
<circle cx="803.2" cy="879.7" r="7.08" fill="rgba(23,107,189,0.655)"/>
<circle cx="803.2" cy="879.7" r="8.55" fill="none" stroke="rgba(20,22,25,0.64)" stroke-width="2.95"/>
<circle cx="811.0" cy="879.7" r="7.08" fill="rgba(23,107,189,0.655)"/>
<circle cx="811.0" cy="879.7" r="8.55" fill="none" stroke="rgba(20,22,25,0.64)" stroke-width="2.95"/>
<circle cx="826.6" cy="883.6" r="7.08" fill="rgba(23,107,189,0.655)"/>
<circle cx="826.6" cy="883.6" r="8.55" fill="none" stroke="rgba(20,22,25,0.64)" stroke-width="2.95"/>
<circle cx="822.7" cy="887.5" r="7.08" fill="rgba(23,107,189,0.655)"/>
<circle cx="822.7" cy="887.5" r="8.55" fill="none" stroke="rgba(20,22,25,0.64)" stroke-width="2.95"/>
<circle cx="794.6" cy="895.4" r="7.08" fill="rgba(23,107,189,0.655)"/>
<circle cx="794.6" cy="895.4" r="8.55" fill="none" stroke="rgba(20,22,25,0.64)" stroke-width="2.95"/>
<circle cx="807.8" cy="909.8" r="7.08" fill="rgba(23,107,189,0.655)"/>
<circle cx="807.8" cy="909.8" r="8.55" fill="none" stroke="rgba(20,22,25,0.64)" stroke-width="2.95"/>
<rect x="256.60" y="658.70" width="764.20" height="485.60" fill="none" stroke="#15181b" stroke-width="2.2"/>
<line x1="246.10" y1="1117.53" x2="256.60" y2="1117.53" stroke="#2e3134" stroke-width="3.6"/>
<text x="149.81" y="1133.43" font-size="45.50" fill="#404446" text-anchor="start" font-weight="normal">13.0</text>
<line x1="246.10" y1="980.96" x2="256.60" y2="980.96" stroke="#2e3134" stroke-width="3.6"/>
<text x="149.92" y="996.86" font-size="45.50" fill="#404446" text-anchor="start" font-weight="normal">13.5</text>
<line x1="246.10" y1="844.40" x2="256.60" y2="844.40" stroke="#2e3134" stroke-width="3.6"/>
<text x="149.81" y="860.30" font-size="45.50" fill="#404446" text-anchor="start" font-weight="normal">14.0</text>
<line x1="246.10" y1="707.84" x2="256.60" y2="707.84" stroke="#2e3134" stroke-width="3.6"/>
<text x="149.92" y="723.74" font-size="45.50" fill="#404446" text-anchor="start" font-weight="normal">14.5</text>
<line x1="464.30" y1="1144.30" x2="464.30" y2="1155.10" stroke="#2e3134" stroke-width="3.6"/>
<text x="320.84" y="1201.70" font-size="54.60" fill="#404446" text-anchor="start" font-weight="normal">rat−infested</text>
<line x1="812.80" y1="1144.30" x2="812.80" y2="1155.10" stroke="#2e3134" stroke-width="3.6"/>
<text x="717.39" y="1201.70" font-size="54.60" fill="#404446" text-anchor="start" font-weight="normal">rat−free</text>
<text x="271.21" y="703.40" font-size="42.50" fill="#000" text-anchor="start" font-weight="bold">c</text>
<text transform="translate(76.20,1159.67) rotate(-90)" font-size="55.30" fill="#000" text-anchor="start" font-weight="normal">Parrotfish % nitrogen</text>
<path d="M1204.1,1122.0 C1209.9,1121.8 1229.1,1121.5 1238.8,1121.1 C1248.5,1120.7 1254.8,1120.5 1262.0,1119.7 C1269.2,1118.9 1275.7,1117.8 1282.0,1116.5 C1288.3,1115.2 1291.9,1114.3 1300.0,1111.7 C1308.1,1109.1 1320.4,1106.3 1330.6,1101.0 C1340.8,1095.6 1351.0,1087.0 1361.2,1079.6 C1371.4,1072.2 1384.2,1063.7 1391.8,1056.6 C1399.5,1049.5 1402.0,1044.6 1407.1,1036.7 C1412.2,1028.8 1417.8,1017.6 1422.4,1009.2 C1427.0,1000.7 1429.6,994.5 1434.7,986.2 C1439.8,977.9 1447.4,969.0 1453.0,959.6 C1458.7,950.1 1463.2,941.2 1468.4,929.6 C1473.5,917.9 1479.1,901.5 1483.7,889.8 C1488.2,878.0 1491.3,869.9 1495.9,859.2 C1500.5,848.5 1506.1,836.7 1511.2,825.5 C1516.3,814.3 1521.9,802.0 1526.5,791.8 C1531.1,781.6 1534.2,771.4 1538.8,764.3 C1543.3,757.1 1549.0,753.3 1554.1,749.0 C1559.2,744.6 1564.8,741.7 1569.4,738.3 C1574.0,734.8 1578.0,730.4 1581.6,728.2 C1585.2,726.0 1588.0,725.1 1590.8,725.1 C1593.6,725.1 1595.9,726.0 1598.4,728.2 C1601.0,730.4 1602.3,732.5 1606.1,738.3 C1609.9,744.0 1616.3,754.6 1621.4,762.7 C1626.5,770.9 1632.1,779.6 1636.7,787.2 C1641.3,794.9 1643.8,797.4 1648.9,808.7 C1654.0,819.9 1661.7,841.3 1667.3,854.6 C1672.9,867.8 1677.5,877.3 1682.6,888.2 C1687.7,899.2 1692.8,909.2 1697.9,920.4 C1703.0,931.6 1708.1,944.6 1713.2,955.6 C1718.3,966.6 1723.4,976.2 1728.5,986.2 C1733.6,996.1 1738.7,1006.3 1743.8,1015.3 C1748.9,1024.2 1754.0,1032.4 1759.1,1039.8 C1764.2,1047.2 1769.3,1053.3 1774.4,1059.7 C1779.5,1066.0 1784.6,1072.3 1789.7,1078.0 C1794.8,1083.8 1799.9,1089.9 1805.1,1094.2 C1810.2,1098.6 1812.7,1101.1 1820.4,1104.0 C1828.0,1106.9 1840.8,1109.4 1851.0,1111.7 C1861.2,1114.0 1873.4,1116.3 1881.6,1117.8 C1889.7,1119.3 1891.9,1120.2 1899.9,1120.9 C1908.0,1121.5 1919.3,1121.4 1930.0,1121.6 C1940.7,1121.8 1958.7,1121.9 1964.4,1122.0 L1204.1,1122.0 Z" fill="#5f98d0"/>
<line x1="1161.3" y1="1122.6" x2="1204" y2="1122.6" stroke="#e9a49c" stroke-width="1.5"/>
<line x1="1204" y1="1122.5" x2="1300" y2="1122.5" stroke="#5f98d0" stroke-width="1.4"/>
<line x1="1204.00" y1="1145.50" x2="1204.00" y2="657.70" stroke="#000" stroke-width="3.8" stroke-dasharray="14.8 14.85"/>
<line x1="1383.20" y1="1122.00" x2="1784.90" y2="1122.00" stroke="#000" stroke-width="5"/>
<line x1="1467.90" y1="1122.00" x2="1699.30" y2="1122.00" stroke="#000" stroke-width="11"/>
<circle cx="1582.60" cy="1122.00" r="14.00" fill="#000"/>
<text x="1463.93" y="706.90" font-size="41.40" fill="#000" text-anchor="start" font-weight="normal">+ seabird effect</text>
<line x1="1465.1" y1="716.10" x2="1771.0" y2="716.10" stroke="#000" stroke-width="3.6"/>
<polyline points="1757.0,703.30 1772.6,716.10 1757.0,728.90" fill="none" stroke="#000" stroke-width="3.6" stroke-linejoin="miter"/>
<path d="M1774.78,704.50 L1783.04,710.00 L1791.30,713.79 L1798.19,717.23 L1804.38,721.02 L1809.20,724.46 L1810.71,726.18 L1809.89,727.21 L1808.86,731.34 L1809.20,734.78 L1811.95,739.60 L1815.40,743.04 L1822.28,744.28 L1829.16,745.11 L1833.29,746.49 L1836.05,749.24 L1838.80,752.68 L1842.24,754.40 L1843.96,756.47 L1841.55,755.78 L1838.80,754.40 L1836.05,754.06 L1829.16,755.43 L1824.34,757.50 L1820.21,760.25 L1819.53,763.70 L1822.28,769.20 L1827.79,776.09 L1829.85,780.90 L1830.54,791.23 L1829.85,801.56 L1827.10,809.82 L1822.97,816.70 L1820.21,821.17 L1818.84,815.32 L1817.80,805.69 L1815.40,794.67 L1811.95,785.72 L1808.51,778.84 L1805.07,771.96 L1803.00,765.07 L1798.19,764.52 L1791.30,764.25 L1784.42,763.83 L1774.09,763.35 L1765.14,763.01 L1767.90,760.60 L1772.72,758.19 L1778.91,755.78 L1787.86,753.03 L1793.37,750.96 L1794.06,746.49 L1793.37,739.60 L1791.30,732.72 L1790.61,727.90 L1788.55,722.05 L1783.04,714.48 L1777.53,707.59 Z" fill="#000" stroke="#000" stroke-width="0.6" stroke-linejoin="round"/>
<rect x="1122.30" y="658.70" width="881.90" height="485.60" fill="none" stroke="#15181b" stroke-width="2.2"/>
<line x1="1203.80" y1="1144.30" x2="1203.80" y2="1155.10" stroke="#2e3134" stroke-width="3.6"/>
<text x="1172.18" y="1194.60" font-size="45.50" fill="#404446" text-anchor="start" font-weight="normal">0.0</text>
<line x1="1369.90" y1="1144.30" x2="1369.90" y2="1155.10" stroke="#2e3134" stroke-width="3.6"/>
<text x="1338.51" y="1194.60" font-size="45.50" fill="#404446" text-anchor="start" font-weight="normal">0.1</text>
<line x1="1536.00" y1="1144.30" x2="1536.00" y2="1155.10" stroke="#2e3134" stroke-width="3.6"/>
<text x="1504.61" y="1194.60" font-size="45.50" fill="#404446" text-anchor="start" font-weight="normal">0.2</text>
<line x1="1702.10" y1="1144.30" x2="1702.10" y2="1155.10" stroke="#2e3134" stroke-width="3.6"/>
<text x="1670.59" y="1194.60" font-size="45.50" fill="#404446" text-anchor="start" font-weight="normal">0.3</text>
<line x1="1868.20" y1="1144.30" x2="1868.20" y2="1155.10" stroke="#2e3134" stroke-width="3.6"/>
<text x="1836.35" y="1194.60" font-size="45.50" fill="#404446" text-anchor="start" font-weight="normal">0.4</text>
<text x="1139.20" y="703.40" font-size="42.50" fill="#000" text-anchor="start" font-weight="bold">d</text>
<text transform="translate(1099.80,1107.84) rotate(-90)" font-size="55.30" fill="#000" text-anchor="start" font-weight="normal">Posterior density</text>
<text x="1269.87" y="1264.00" font-size="55.30" fill="#000" text-anchor="start" font-weight="normal">Difference in % nitrogen</text>
<line x1="464.30" y1="1759.60" x2="464.30" y2="1759.60" stroke="#2a2d30" stroke-width="3.6"/>
<line x1="464.30" y1="1779.10" x2="464.30" y2="1779.10" stroke="#2a2d30" stroke-width="3.6"/>
<rect x="333.40" y="1759.60" width="262.10" height="19.50" fill="rgba(229,100,87,0.75)" stroke="#2a2d30" stroke-width="3.6" stroke-linejoin="round"/>
<line x1="333.40" y1="1779.10" x2="595.50" y2="1779.10" stroke="#2a2d30" stroke-width="7.2"/>
<line x1="813.00" y1="1633.80" x2="813.00" y2="1680.60" stroke="#2a2d30" stroke-width="3.6"/>
<line x1="813.00" y1="1779.00" x2="813.00" y2="1779.00" stroke="#2a2d30" stroke-width="3.6"/>
<rect x="682.50" y="1680.60" width="260.80" height="98.40" fill="rgba(63,133,201,0.77)" stroke="#2a2d30" stroke-width="3.6" stroke-linejoin="round"/>
<line x1="682.50" y1="1747.70" x2="943.30" y2="1747.70" stroke="#2a2d30" stroke-width="7.2"/>
<path d="M459.3,1633.9L467.8,1642.4L459.3,1650.9L450.8,1642.4Z" fill="rgba(227,75,61,0.655)"/>
<path d="M459.3,1632.0L469.8,1642.4L459.3,1652.9L448.9,1642.4Z" fill="none" stroke="rgba(20,22,25,0.64)" stroke-width="2.80" stroke-linejoin="miter"/>
<path d="M473.1,1681.1L481.6,1689.6L473.1,1698.1L464.6,1689.6Z" fill="rgba(227,75,61,0.655)"/>
<path d="M473.1,1679.1L483.6,1689.6L473.1,1700.0L462.7,1689.6Z" fill="none" stroke="rgba(20,22,25,0.64)" stroke-width="2.80" stroke-linejoin="miter"/>
<path d="M436.5,1741.7L445.0,1750.2L436.5,1758.7L428.0,1750.2Z" fill="rgba(227,75,61,0.655)"/>
<path d="M436.5,1739.8L446.9,1750.2L436.5,1760.7L426.1,1750.2Z" fill="none" stroke="rgba(20,22,25,0.64)" stroke-width="2.80" stroke-linejoin="miter"/>
<path d="M436.9,1741.9L445.4,1750.4L436.9,1758.9L428.4,1750.4Z" fill="rgba(227,75,61,0.655)"/>
<path d="M436.9,1740.0L447.3,1750.4L436.9,1760.9L426.4,1750.4Z" fill="none" stroke="rgba(20,22,25,0.64)" stroke-width="2.80" stroke-linejoin="miter"/>
<path d="M459.0,1739.7L467.5,1748.2L459.0,1756.7L450.5,1748.2Z" fill="rgba(227,75,61,0.655)"/>
<path d="M459.0,1737.8L469.4,1748.2L459.0,1758.7L448.6,1748.2Z" fill="none" stroke="rgba(20,22,25,0.64)" stroke-width="2.80" stroke-linejoin="miter"/>
<path d="M471.9,1737.7L480.4,1746.2L471.9,1754.7L463.4,1746.2Z" fill="rgba(227,75,61,0.655)"/>
<path d="M471.9,1735.8L482.3,1746.2L471.9,1756.7L461.4,1746.2Z" fill="none" stroke="rgba(20,22,25,0.64)" stroke-width="2.80" stroke-linejoin="miter"/>
<path d="M450.5,1752.7L459.0,1761.2L450.5,1769.7L442.0,1761.2Z" fill="rgba(227,75,61,0.655)"/>
<path d="M450.5,1750.8L460.9,1761.2L450.5,1771.7L440.1,1761.2Z" fill="none" stroke="rgba(20,22,25,0.64)" stroke-width="2.80" stroke-linejoin="miter"/>
<path d="M484.0,1751.3L492.5,1759.8L484.0,1768.3L475.5,1759.8Z" fill="rgba(227,75,61,0.655)"/>
<path d="M484.0,1749.3L494.4,1759.8L484.0,1770.2L473.6,1759.8Z" fill="none" stroke="rgba(20,22,25,0.64)" stroke-width="2.80" stroke-linejoin="miter"/>
<path d="M433.8,1771.1L442.3,1779.6L433.8,1788.1L425.3,1779.6Z" fill="rgba(227,75,61,0.655)"/>
<path d="M433.8,1769.1L444.2,1779.6L433.8,1790.0L423.4,1779.6Z" fill="none" stroke="rgba(20,22,25,0.64)" stroke-width="2.80" stroke-linejoin="miter"/>
<path d="M433.8,1771.1L442.3,1779.6L433.8,1788.1L425.3,1779.6Z" fill="rgba(227,75,61,0.655)"/>
<path d="M433.8,1769.1L444.2,1779.6L433.8,1790.0L423.4,1779.6Z" fill="none" stroke="rgba(20,22,25,0.64)" stroke-width="2.80" stroke-linejoin="miter"/>
<path d="M434.2,1770.9L442.7,1779.4L434.2,1787.9L425.7,1779.4Z" fill="rgba(227,75,61,0.655)"/>
<path d="M434.2,1769.0L444.6,1779.4L434.2,1789.9L423.8,1779.4Z" fill="none" stroke="rgba(20,22,25,0.64)" stroke-width="2.80" stroke-linejoin="miter"/>
<path d="M449.8,1771.1L458.3,1779.6L449.8,1788.1L441.3,1779.6Z" fill="rgba(227,75,61,0.655)"/>
<path d="M449.8,1769.1L460.2,1779.6L449.8,1790.0L439.4,1779.6Z" fill="none" stroke="rgba(20,22,25,0.64)" stroke-width="2.80" stroke-linejoin="miter"/>
<path d="M455.8,1770.0L464.3,1778.5L455.8,1787.0L447.3,1778.5Z" fill="rgba(227,75,61,0.655)"/>
<path d="M455.8,1768.0L466.2,1778.5L455.8,1789.0L445.4,1778.5Z" fill="none" stroke="rgba(20,22,25,0.64)" stroke-width="2.80" stroke-linejoin="miter"/>
<path d="M455.8,1770.0L464.3,1778.5L455.8,1787.0L447.3,1778.5Z" fill="rgba(227,75,61,0.655)"/>
<path d="M455.8,1768.0L466.2,1778.5L455.8,1789.0L445.4,1778.5Z" fill="none" stroke="rgba(20,22,25,0.64)" stroke-width="2.80" stroke-linejoin="miter"/>
<path d="M461.3,1771.1L469.8,1779.6L461.3,1788.1L452.8,1779.6Z" fill="rgba(227,75,61,0.655)"/>
<path d="M461.3,1769.1L471.8,1779.6L461.3,1790.0L450.9,1779.6Z" fill="none" stroke="rgba(20,22,25,0.64)" stroke-width="2.80" stroke-linejoin="miter"/>
<path d="M467.8,1771.1L476.3,1779.6L467.8,1788.1L459.3,1779.6Z" fill="rgba(227,75,61,0.655)"/>
<path d="M467.8,1769.1L478.2,1779.6L467.8,1790.0L457.4,1779.6Z" fill="none" stroke="rgba(20,22,25,0.64)" stroke-width="2.80" stroke-linejoin="miter"/>
<path d="M472.8,1770.4L481.3,1778.9L472.8,1787.4L464.3,1778.9Z" fill="rgba(227,75,61,0.655)"/>
<path d="M472.8,1768.5L483.2,1778.9L472.8,1789.4L462.4,1778.9Z" fill="none" stroke="rgba(20,22,25,0.64)" stroke-width="2.80" stroke-linejoin="miter"/>
<path d="M472.8,1770.4L481.3,1778.9L472.8,1787.4L464.3,1778.9Z" fill="rgba(227,75,61,0.655)"/>
<path d="M472.8,1768.5L483.2,1778.9L472.8,1789.4L462.4,1778.9Z" fill="none" stroke="rgba(20,22,25,0.64)" stroke-width="2.80" stroke-linejoin="miter"/>
<path d="M483.8,1771.5L492.3,1780.0L483.8,1788.5L475.3,1780.0Z" fill="rgba(227,75,61,0.655)"/>
<path d="M483.8,1769.5L494.2,1780.0L483.8,1790.5L473.4,1780.0Z" fill="none" stroke="rgba(20,22,25,0.64)" stroke-width="2.80" stroke-linejoin="miter"/>
<path d="M496.2,1770.4L504.7,1778.9L496.2,1787.4L487.7,1778.9Z" fill="rgba(227,75,61,0.655)"/>
<path d="M496.2,1768.5L506.6,1778.9L496.2,1789.4L485.8,1778.9Z" fill="none" stroke="rgba(20,22,25,0.64)" stroke-width="2.80" stroke-linejoin="miter"/>
<path d="M496.2,1770.4L504.7,1778.9L496.2,1787.4L487.7,1778.9Z" fill="rgba(227,75,61,0.655)"/>
<path d="M496.2,1768.5L506.6,1778.9L496.2,1789.4L485.8,1778.9Z" fill="none" stroke="rgba(20,22,25,0.64)" stroke-width="2.80" stroke-linejoin="miter"/>
<circle cx="821.2" cy="1335.5" r="7.08" fill="rgba(23,107,189,0.655)"/>
<circle cx="821.2" cy="1335.5" r="8.55" fill="none" stroke="rgba(20,22,25,0.64)" stroke-width="2.95"/>
<circle cx="808.2" cy="1458.0" r="7.08" fill="rgba(23,107,189,0.655)"/>
<circle cx="808.2" cy="1458.0" r="8.55" fill="none" stroke="rgba(20,22,25,0.64)" stroke-width="2.95"/>
<circle cx="814.5" cy="1520.0" r="7.08" fill="rgba(23,107,189,0.655)"/>
<circle cx="814.5" cy="1520.0" r="8.55" fill="none" stroke="rgba(20,22,25,0.64)" stroke-width="2.95"/>
<circle cx="790.9" cy="1633.8" r="7.08" fill="rgba(23,107,189,0.655)"/>
<circle cx="790.9" cy="1633.8" r="8.55" fill="none" stroke="rgba(20,22,25,0.64)" stroke-width="2.95"/>
<circle cx="814.6" cy="1678.9" r="7.08" fill="rgba(23,107,189,0.655)"/>
<circle cx="814.6" cy="1678.9" r="8.55" fill="none" stroke="rgba(20,22,25,0.64)" stroke-width="2.95"/>
<circle cx="842.5" cy="1680.5" r="7.08" fill="rgba(23,107,189,0.655)"/>
<circle cx="842.5" cy="1680.5" r="8.55" fill="none" stroke="rgba(20,22,25,0.64)" stroke-width="2.95"/>
<circle cx="838.3" cy="1706.5" r="7.08" fill="rgba(23,107,189,0.655)"/>
<circle cx="838.3" cy="1706.5" r="8.55" fill="none" stroke="rgba(20,22,25,0.64)" stroke-width="2.95"/>
<circle cx="819.2" cy="1734.8" r="7.08" fill="rgba(23,107,189,0.655)"/>
<circle cx="819.2" cy="1734.8" r="8.55" fill="none" stroke="rgba(20,22,25,0.64)" stroke-width="2.95"/>
<circle cx="784.8" cy="1746.3" r="7.08" fill="rgba(23,107,189,0.655)"/>
<circle cx="784.8" cy="1746.3" r="8.55" fill="none" stroke="rgba(20,22,25,0.64)" stroke-width="2.95"/>
<circle cx="792.4" cy="1748.6" r="7.08" fill="rgba(23,107,189,0.655)"/>
<circle cx="792.4" cy="1748.6" r="8.55" fill="none" stroke="rgba(20,22,25,0.64)" stroke-width="2.95"/>
<circle cx="833.7" cy="1746.3" r="7.08" fill="rgba(23,107,189,0.655)"/>
<circle cx="833.7" cy="1746.3" r="8.55" fill="none" stroke="rgba(20,22,25,0.64)" stroke-width="2.95"/>
<circle cx="786.7" cy="1778.4" r="7.08" fill="rgba(23,107,189,0.655)"/>
<circle cx="786.7" cy="1778.4" r="8.55" fill="none" stroke="rgba(20,22,25,0.64)" stroke-width="2.95"/>
<circle cx="801.6" cy="1778.4" r="7.08" fill="rgba(23,107,189,0.655)"/>
<circle cx="801.6" cy="1778.4" r="8.55" fill="none" stroke="rgba(20,22,25,0.64)" stroke-width="2.95"/>
<circle cx="806.2" cy="1778.4" r="7.08" fill="rgba(23,107,189,0.655)"/>
<circle cx="806.2" cy="1778.4" r="8.55" fill="none" stroke="rgba(20,22,25,0.64)" stroke-width="2.95"/>
<circle cx="812.3" cy="1778.4" r="7.08" fill="rgba(23,107,189,0.655)"/>
<circle cx="812.3" cy="1778.4" r="8.55" fill="none" stroke="rgba(20,22,25,0.64)" stroke-width="2.95"/>
<circle cx="829.1" cy="1777.7" r="7.08" fill="rgba(23,107,189,0.655)"/>
<circle cx="829.1" cy="1777.7" r="8.55" fill="none" stroke="rgba(20,22,25,0.64)" stroke-width="2.95"/>
<circle cx="831.4" cy="1776.1" r="7.08" fill="rgba(23,107,189,0.655)"/>
<circle cx="831.4" cy="1776.1" r="8.55" fill="none" stroke="rgba(20,22,25,0.64)" stroke-width="2.95"/>
<circle cx="842.2" cy="1778.4" r="7.08" fill="rgba(23,107,189,0.655)"/>
<circle cx="842.2" cy="1778.4" r="8.55" fill="none" stroke="rgba(20,22,25,0.64)" stroke-width="2.95"/>
<circle cx="846.0" cy="1778.4" r="7.08" fill="rgba(23,107,189,0.655)"/>
<circle cx="846.0" cy="1778.4" r="8.55" fill="none" stroke="rgba(20,22,25,0.64)" stroke-width="2.95"/>
<rect x="256.60" y="1314.90" width="764.20" height="485.50" fill="none" stroke="#15181b" stroke-width="2.2"/>
<line x1="246.10" y1="1779.20" x2="256.60" y2="1779.20" stroke="#2e3134" stroke-width="3.6"/>
<text x="213.05" y="1795.10" font-size="45.50" fill="#404446" text-anchor="start" font-weight="normal">0</text>
<line x1="246.10" y1="1647.30" x2="256.60" y2="1647.30" stroke="#2e3134" stroke-width="3.6"/>
<text x="162.44" y="1663.20" font-size="45.50" fill="#404446" text-anchor="start" font-weight="normal">200</text>
<line x1="246.10" y1="1515.40" x2="256.60" y2="1515.40" stroke="#2e3134" stroke-width="3.6"/>
<text x="162.44" y="1531.30" font-size="45.50" fill="#404446" text-anchor="start" font-weight="normal">400</text>
<line x1="246.10" y1="1383.50" x2="256.60" y2="1383.50" stroke="#2e3134" stroke-width="3.6"/>
<text x="162.44" y="1399.40" font-size="45.50" fill="#404446" text-anchor="start" font-weight="normal">600</text>
<line x1="464.30" y1="1800.40" x2="464.30" y2="1811.20" stroke="#2e3134" stroke-width="3.6"/>
<text x="320.84" y="1857.80" font-size="54.60" fill="#404446" text-anchor="start" font-weight="normal">rat−infested</text>
<line x1="812.80" y1="1800.40" x2="812.80" y2="1811.20" stroke="#2e3134" stroke-width="3.6"/>
<text x="717.39" y="1857.80" font-size="54.60" fill="#404446" text-anchor="start" font-weight="normal">rat−free</text>
<text x="270.61" y="1359.50" font-size="42.50" fill="#000" text-anchor="start" font-weight="bold">e</text>
<text transform="translate(42.90,1780.43) rotate(-90)" font-size="55.30" fill="#000" text-anchor="start" font-weight="normal">Piscivore biomass</text>
<text transform="translate(109.50,1635.96) rotate(-90)" font-size="55.30" fill="#000" text-anchor="start" font-weight="normal">(kg/ha)</text>
<clipPath id="cpR"><rect x="1100" y="1300" width="186" height="500"/></clipPath>
<clipPath id="cpB"><rect x="1286" y="1300" width="800" height="500"/></clipPath>
<path d="M1198.1,1778.0 C1201.8,1777.8 1213.5,1777.5 1220.3,1776.6 C1227.1,1775.8 1233.4,1774.1 1238.8,1772.9 C1244.2,1771.8 1248.1,1772.2 1252.7,1769.7 C1257.3,1767.2 1262.3,1763.1 1266.6,1758.1 C1270.8,1753.1 1275.1,1746.2 1278.2,1739.6 C1281.2,1733.1 1282.4,1726.5 1285.1,1718.8 C1287.8,1711.1 1291.3,1702.2 1294.4,1693.3 C1297.4,1684.5 1300.5,1676.4 1303.6,1665.6 C1306.7,1654.8 1309.8,1641.7 1312.9,1628.6 C1315.9,1615.4 1319.0,1600.8 1322.1,1586.9 C1325.2,1573.0 1328.3,1560.7 1331.4,1545.3 C1334.5,1529.8 1337.9,1509.8 1340.6,1494.4 C1343.3,1478.9 1345.3,1465.0 1347.6,1452.7 C1349.9,1440.4 1352.2,1430.3 1354.5,1420.3 C1356.8,1410.3 1359.5,1399.1 1361.5,1392.5 C1363.4,1386.0 1364.2,1382.1 1366.1,1381.0 C1368.0,1379.8 1370.7,1382.5 1373.0,1385.6 C1375.3,1388.7 1377.3,1394.5 1380.0,1399.5 C1382.7,1404.5 1386.5,1409.1 1389.2,1415.7 C1391.9,1422.2 1393.5,1428.8 1396.2,1438.8 C1398.9,1448.9 1402.3,1462.0 1405.4,1475.8 C1408.5,1489.7 1411.6,1507.5 1414.7,1522.1 C1417.8,1536.8 1420.8,1549.9 1423.9,1563.8 C1427.0,1577.6 1430.1,1590.8 1433.2,1605.4 C1436.3,1620.1 1439.3,1637.0 1442.4,1651.7 C1445.5,1666.3 1447.8,1680.2 1451.7,1693.3 C1455.5,1706.4 1460.9,1719.9 1465.6,1730.4 C1470.2,1740.8 1474.8,1748.9 1479.5,1755.8 C1484.1,1762.7 1487.2,1768.5 1493.3,1772.0 C1499.5,1775.5 1504.9,1775.6 1516.5,1776.6 C1528.0,1777.6 1549.8,1777.6 1562.7,1778.0 C1575.7,1778.4 1589.0,1778.8 1594.2,1778.9 L1198.1,1779.0 Z" fill="#eb8276" clip-path="url(#cpR)"/>
<path d="M1198.1,1778.0 C1201.8,1777.8 1213.5,1777.5 1220.3,1776.6 C1227.1,1775.8 1233.4,1774.1 1238.8,1772.9 C1244.2,1771.8 1248.1,1772.2 1252.7,1769.7 C1257.3,1767.2 1262.3,1763.1 1266.6,1758.1 C1270.8,1753.1 1275.1,1746.2 1278.2,1739.6 C1281.2,1733.1 1282.4,1726.5 1285.1,1718.8 C1287.8,1711.1 1291.3,1702.2 1294.4,1693.3 C1297.4,1684.5 1300.5,1676.4 1303.6,1665.6 C1306.7,1654.8 1309.8,1641.7 1312.9,1628.6 C1315.9,1615.4 1319.0,1600.8 1322.1,1586.9 C1325.2,1573.0 1328.3,1560.7 1331.4,1545.3 C1334.5,1529.8 1337.9,1509.8 1340.6,1494.4 C1343.3,1478.9 1345.3,1465.0 1347.6,1452.7 C1349.9,1440.4 1352.2,1430.3 1354.5,1420.3 C1356.8,1410.3 1359.5,1399.1 1361.5,1392.5 C1363.4,1386.0 1364.2,1382.1 1366.1,1381.0 C1368.0,1379.8 1370.7,1382.5 1373.0,1385.6 C1375.3,1388.7 1377.3,1394.5 1380.0,1399.5 C1382.7,1404.5 1386.5,1409.1 1389.2,1415.7 C1391.9,1422.2 1393.5,1428.8 1396.2,1438.8 C1398.9,1448.9 1402.3,1462.0 1405.4,1475.8 C1408.5,1489.7 1411.6,1507.5 1414.7,1522.1 C1417.8,1536.8 1420.8,1549.9 1423.9,1563.8 C1427.0,1577.6 1430.1,1590.8 1433.2,1605.4 C1436.3,1620.1 1439.3,1637.0 1442.4,1651.7 C1445.5,1666.3 1447.8,1680.2 1451.7,1693.3 C1455.5,1706.4 1460.9,1719.9 1465.6,1730.4 C1470.2,1740.8 1474.8,1748.9 1479.5,1755.8 C1484.1,1762.7 1487.2,1768.5 1493.3,1772.0 C1499.5,1775.5 1504.9,1775.6 1516.5,1776.6 C1528.0,1777.6 1549.8,1777.6 1562.7,1778.0 C1575.7,1778.4 1589.0,1778.8 1594.2,1778.9 L1198.1,1779.0 Z" fill="#5f98d0" clip-path="url(#cpB)"/>
<line x1="1286.00" y1="1801.60" x2="1286.00" y2="1313.90" stroke="#000" stroke-width="3.8" stroke-dasharray="14.8 14.85"/>
<line x1="1284.20" y1="1779.00" x2="1456.30" y2="1779.00" stroke="#000" stroke-width="5"/>
<line x1="1323.00" y1="1779.00" x2="1422.50" y2="1779.00" stroke="#000" stroke-width="11"/>
<circle cx="1371.60" cy="1779.00" r="14.00" fill="#000"/>
<text x="1463.93" y="1358.40" font-size="41.40" fill="#000" text-anchor="start" font-weight="normal">+ seabird effect</text>
<line x1="1465.1" y1="1368.10" x2="1771.0" y2="1368.10" stroke="#000" stroke-width="3.6"/>
<polyline points="1757.0,1355.30 1772.6,1368.10 1757.0,1380.90" fill="none" stroke="#000" stroke-width="3.6" stroke-linejoin="miter"/>
<path d="M1774.78,1356.50 L1783.04,1362.00 L1791.30,1365.79 L1798.19,1369.23 L1804.38,1373.02 L1809.20,1376.46 L1810.71,1378.18 L1809.89,1379.21 L1808.86,1383.34 L1809.20,1386.78 L1811.95,1391.60 L1815.40,1395.04 L1822.28,1396.28 L1829.16,1397.11 L1833.29,1398.49 L1836.05,1401.24 L1838.80,1404.68 L1842.24,1406.40 L1843.96,1408.47 L1841.55,1407.78 L1838.80,1406.40 L1836.05,1406.06 L1829.16,1407.43 L1824.34,1409.50 L1820.21,1412.25 L1819.53,1415.70 L1822.28,1421.20 L1827.79,1428.09 L1829.85,1432.90 L1830.54,1443.23 L1829.85,1453.56 L1827.10,1461.82 L1822.97,1468.70 L1820.21,1473.17 L1818.84,1467.32 L1817.80,1457.69 L1815.40,1446.67 L1811.95,1437.72 L1808.51,1430.84 L1805.07,1423.96 L1803.00,1417.07 L1798.19,1416.52 L1791.30,1416.25 L1784.42,1415.83 L1774.09,1415.35 L1765.14,1415.01 L1767.90,1412.60 L1772.72,1410.19 L1778.91,1407.78 L1787.86,1405.03 L1793.37,1402.96 L1794.06,1398.49 L1793.37,1391.60 L1791.30,1384.72 L1790.61,1379.90 L1788.55,1374.05 L1783.04,1366.48 L1777.53,1359.59 Z" fill="#000" stroke="#000" stroke-width="0.6" stroke-linejoin="round"/>
<rect x="1122.30" y="1314.90" width="881.90" height="485.50" fill="none" stroke="#15181b" stroke-width="2.2"/>
<line x1="1161.50" y1="1800.40" x2="1161.50" y2="1811.20" stroke="#2e3134" stroke-width="3.6"/>
<text x="1129.98" y="1858.90" font-size="55.30" fill="#404446" text-anchor="start" font-weight="normal">−2</text>
<line x1="1286.00" y1="1800.40" x2="1286.00" y2="1811.20" stroke="#2e3134" stroke-width="3.6"/>
<text x="1270.65" y="1858.90" font-size="55.30" fill="#404446" text-anchor="start" font-weight="normal">0</text>
<line x1="1410.50" y1="1800.40" x2="1410.50" y2="1811.20" stroke="#2e3134" stroke-width="3.6"/>
<text x="1395.09" y="1858.90" font-size="55.30" fill="#404446" text-anchor="start" font-weight="normal">2</text>
<line x1="1535.00" y1="1800.40" x2="1535.00" y2="1811.20" stroke="#2e3134" stroke-width="3.6"/>
<text x="1519.79" y="1858.90" font-size="55.30" fill="#404446" text-anchor="start" font-weight="normal">4</text>
<line x1="1659.50" y1="1800.40" x2="1659.50" y2="1811.20" stroke="#2e3134" stroke-width="3.6"/>
<text x="1643.95" y="1858.90" font-size="55.30" fill="#404446" text-anchor="start" font-weight="normal">6</text>
<line x1="1784.00" y1="1800.40" x2="1784.00" y2="1811.20" stroke="#2e3134" stroke-width="3.6"/>
<text x="1768.59" y="1858.90" font-size="55.30" fill="#404446" text-anchor="start" font-weight="normal">8</text>
<line x1="1908.50" y1="1800.40" x2="1908.50" y2="1811.20" stroke="#2e3134" stroke-width="3.6"/>
<text x="1876.77" y="1858.90" font-size="55.30" fill="#404446" text-anchor="start" font-weight="normal">10</text>
<text x="1143.86" y="1359.00" font-size="42.50" fill="#000" text-anchor="start" font-weight="bold">f</text>
<text transform="translate(1099.80,1764.04) rotate(-90)" font-size="55.30" fill="#000" text-anchor="start" font-weight="normal">Posterior density</text>
<text x="1136.05" y="1917.80" font-size="55.30" fill="#000" text-anchor="start" font-weight="normal">Difference in log piscivore biomass</text>
</svg></body></html>
